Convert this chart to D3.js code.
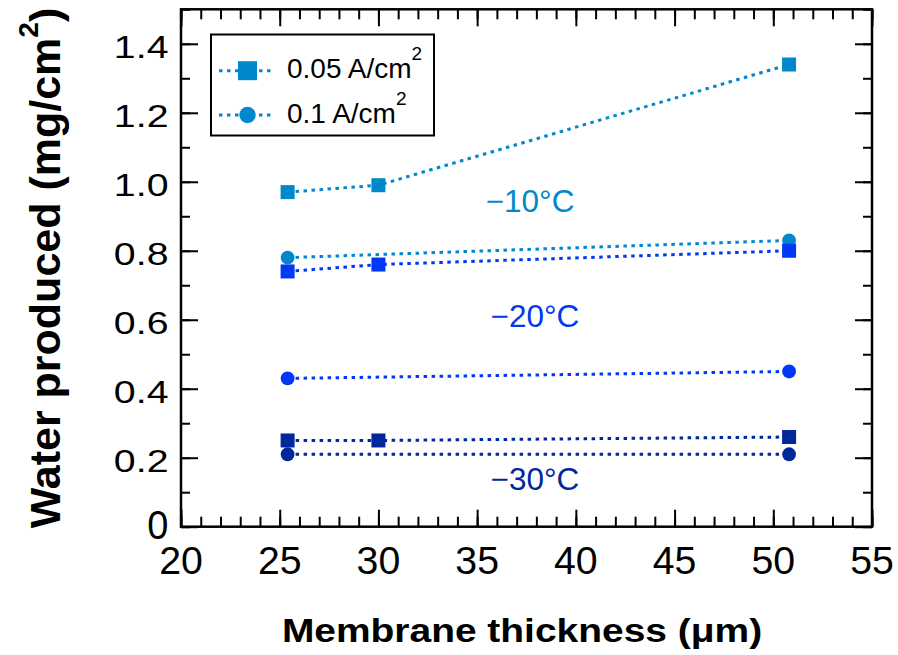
<!DOCTYPE html>
<html>
<head>
<meta charset="utf-8">
<script src="https://cdn.jsdelivr.net/npm/d3@7"></script>
<style>
  html, body { margin: 0; padding: 0; background: #fff; }
  svg { display: block; }
  text { font-family: "Liberation Sans", Arial, Helvetica, sans-serif; }
</style>
</head>
<body>
<svg id="chart" width="898" height="655"></svg>
<script>
// ---- data ----
const thicknessSquare = [25.4, 30, 50.8];
const thicknessCircle = [25.4, 50.8];
const sqMinus10 = [0.97, 0.99, 1.34];
const sqMinus20 = [0.74, 0.76, 0.80];
const sqMinus30 = [0.25, 0.25, 0.26];
const ciMinus10 = [0.78, 0.83];
const ciMinus20 = [0.43, 0.45];
const ciMinus30 = [0.21, 0.21];
const tempLabels = ["\u221210\u00b0C", "\u221220\u00b0C", "\u221230\u00b0C"];
const legendLabels = ["0.05 A/cm", "0.1 A/cm"];
const xTickValues = [20, 25, 30, 35, 40, 45, 50, 55];
const xTickLabels = ["20", "25", "30", "35", "40", "45", "50", "55"];
const yTickValues = [0, 0.2, 0.4, 0.6, 0.8, 1.0, 1.2, 1.4];
const yTickLabels = ["0", "0.2", "0.4", "0.6", "0.8", "1.0", "1.2", "1.4"];

// ---- styling / layout ----
const colors = ["#0088cc", "#0038f5", "#00279c"];
const labelPos = [[37.68, 0.913], [37.93, 0.58], [37.93, 0.106]];

const svg = d3.select("#chart");
const L = 181, R = 872, T = 9.3, B = 526.7;
const x = d3.scaleLinear().domain([20, 55]).range([L, R]);
const y = d3.scaleLinear().domain([0, 1.5]).range([B, T]);

const minorX = d3.range(20, 55.01, 1);
const minorY = d3.range(0, 1.501, 0.1).map(v => +v.toFixed(2));

const axes = svg.append("g");
function tickAxis(gen, transform, vals, size) {
  const g = axes.append("g").attr("transform", transform)
    .call(gen.tickValues(vals).tickSize(size).tickFormat(""));
  g.select(".domain").remove();
  g.selectAll("line").attr("stroke", "#000").attr("stroke-width", 2);
}
tickAxis(d3.axisBottom(x), `translate(0,${B})`, minorX, -10);
tickAxis(d3.axisBottom(x), `translate(0,${B})`, xTickValues, -17);
tickAxis(d3.axisTop(x), `translate(0,${T})`, minorX, -10);
tickAxis(d3.axisTop(x), `translate(0,${T})`, xTickValues, -17);
tickAxis(d3.axisLeft(y), `translate(${L},0)`, minorY, -9);
tickAxis(d3.axisLeft(y), `translate(${L},0)`, yTickValues, -17);
tickAxis(d3.axisRight(y), `translate(${R},0)`, minorY, -9);
tickAxis(d3.axisRight(y), `translate(${R},0)`, yTickValues, -17);

axes.append("rect").attr("x", L).attr("y", T).attr("width", R - L).attr("height", B - T)
  .attr("fill", "none").attr("stroke", "#000").attr("stroke-width", 2.5);

// tick labels
svg.append("g").selectAll("text").data(xTickValues).join("text")
  .attr("transform", d => `translate(${x(d)},574) scale(1.02,1)`)
  .attr("text-anchor", "middle").attr("font-size", 38.5).attr("fill", "#000")
  .text((d, i) => xTickLabels[i]);

svg.append("g").selectAll("text").data(yTickValues).join("text")
  .attr("transform", (d, i) => i === 0
      ? `translate(168.5,${y(d) + 12.5}) scale(0.95,1)`
      : `translate(168.5,${y(d) + 14.3}) scale(1.24,1)`)
  .attr("text-anchor", "end")
  .attr("font-size", (d, i) => i === 0 ? 40 : 31.7).attr("fill", "#000")
  .text((d, i) => yTickLabels[i]);

// axis titles
svg.append("text")
  .attr("transform", "translate(522,641.7) scale(1.18,1)")
  .attr("text-anchor", "middle").attr("font-size", 33).attr("font-weight", "bold")
  .text("Membrane thickness (\u03bcm)");

const yt = svg.append("text")
  .attr("transform", "translate(60,268) rotate(-90)")
  .attr("text-anchor", "middle").attr("font-size", 43).attr("font-weight", "bold");
yt.append("tspan").text("Water produced (mg/cm");
yt.append("tspan").attr("font-size", 28).attr("dy", -22).text("2");
yt.append("tspan").attr("dy", 22).text(")");

// series
const line = d3.line().x(d => x(d[0])).y(d => y(d[1]));
const seriesList = [
  { xs: thicknessSquare, ys: sqMinus10, shape: "square", c: 0 },
  { xs: thicknessCircle, ys: ciMinus10, shape: "circle", c: 0 },
  { xs: thicknessSquare, ys: sqMinus20, shape: "square", c: 1 },
  { xs: thicknessCircle, ys: ciMinus20, shape: "circle", c: 1 },
  { xs: thicknessSquare, ys: sqMinus30, shape: "square", c: 2 },
  { xs: thicknessCircle, ys: ciMinus30, shape: "circle", c: 2 }
];
const dash = "3.5,4.5";
const plot = svg.append("g");
seriesList.forEach(s => {
  const pts = s.xs.map((v, i) => [v, s.ys[i]]);
  plot.append("path").attr("d", line(pts)).attr("fill", "none")
    .attr("stroke", colors[s.c]).attr("stroke-width", 3).attr("stroke-dasharray", dash);
});
seriesList.forEach(s => {
  const pts = s.xs.map((v, i) => [v, s.ys[i]]);
  if (s.shape === "square") {
    plot.append("g").selectAll("rect").data(pts).join("rect")
      .attr("x", d => x(d[0]) - 7).attr("y", d => y(d[1]) - 7)
      .attr("width", 14).attr("height", 14).attr("fill", colors[s.c]);
  } else {
    plot.append("g").selectAll("circle").data(pts).join("circle")
      .attr("cx", d => x(d[0])).attr("cy", d => y(d[1])).attr("r", 6.9)
      .attr("fill", colors[s.c]);
  }
});

// temperature annotations
svg.append("g").selectAll("text").data(tempLabels).join("text")
  .attr("x", (d, i) => x(labelPos[i][0])).attr("y", (d, i) => y(labelPos[i][1]))
  .attr("text-anchor", "middle").attr("font-size", 31.5)
  .attr("fill", (d, i) => colors[i]).text(d => d);

// legend
const lg = svg.append("g");
lg.append("rect").attr("x", 211).attr("y", 34.5).attr("width", 223).attr("height", 101)
  .attr("fill", "#fff").attr("stroke", "#000").attr("stroke-width", 2);
const rowsY = [70.7, 115];
legendLabels.forEach((lab, i) => {
  const cy = rowsY[i];
  lg.append("line").attr("x1", 219).attr("x2", 272).attr("y1", cy).attr("y2", cy)
    .attr("stroke", colors[0]).attr("stroke-width", 3).attr("stroke-dasharray", dash);
  if (i === 0) {
    lg.append("rect").attr("x", 247.5 - 9.5).attr("y", cy - 9.5).attr("width", 19).attr("height", 19)
      .attr("fill", colors[0]);
  } else {
    lg.append("circle").attr("cx", 247.5).attr("cy", cy).attr("r", 8.2).attr("fill", colors[0]);
  }
  const t = lg.append("text").attr("x", 287).attr("y", cy + 7.5).attr("font-size", 28).attr("fill", "#000");
  t.append("tspan").text(lab);
  t.append("tspan").attr("font-size", 19).attr("dy", -18).text("2");
});
</script>
</body>
</html>
